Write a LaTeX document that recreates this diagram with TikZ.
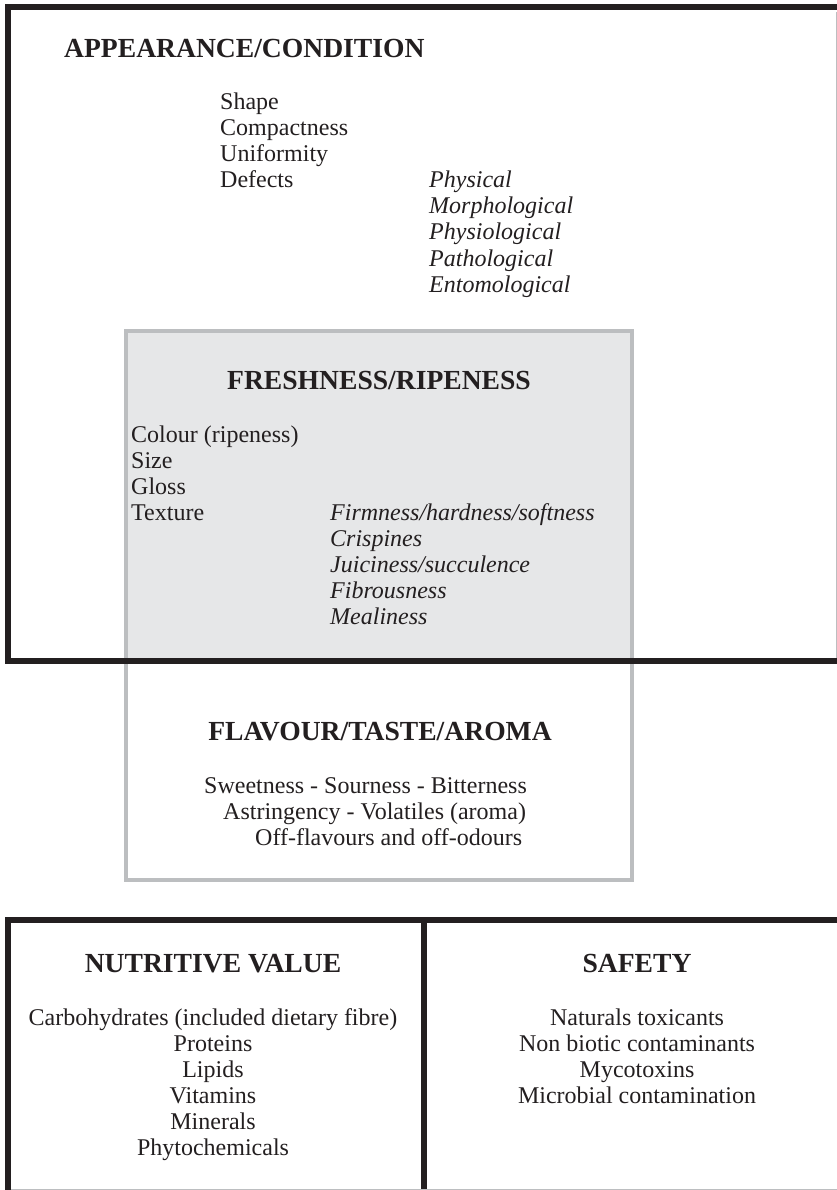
\documentclass[tikz,border=0pt]{standalone}
\usepackage{fontspec}
\setmainfont{Liberation Serif}
\definecolor{inkblack}{HTML}{231F20}
\definecolor{boxfill}{HTML}{E6E7E8}
\definecolor{boxline}{HTML}{BCBEC0}
\tikzset{
  heading/.style={anchor=base, inner sep=0pt, text=inkblack, font=\fontsize{27.6}{30}\selectfont\bfseries},
  bodyl/.style={anchor=base west, inner sep=0pt, text=inkblack, font=\fontsize{24}{26}\selectfont},
  bodyc/.style={anchor=base, inner sep=0pt, text=inkblack, font=\fontsize{24}{26}\selectfont},
  itall/.style={anchor=base west, inner sep=0pt, text=inkblack, font=\fontsize{24}{26}\selectfont\itshape},
  thickframe/.style={draw=inkblack, line width=6pt},
  grayframe/.style={draw=boxline, line width=4pt},
}
\begin{document}
\begin{tikzpicture}[x=1pt,y=-1pt]
\useasboundingbox (0,0) rectangle (837,1190);
\fill[white] (0,0) rectangle (837,1190);
\begin{scope}
\clip (0,0) rectangle (837,1190);
% freshness / flavour box
\fill[boxfill] (126,331) rectangle (632,661);
\draw[grayframe] (126,331) rectangle (632,880);
% appearance frame
\draw[thickframe] (8,6.7) rectangle (850,661);
% bottom frames
\draw[thickframe] (8,920) rectangle (850,1210);
\draw[thickframe] (424,920) -- (424,1210);
% thin edge lines
\draw[boxline, line width=1pt] (836,12) -- (836,658);
\draw[boxline, line width=1pt] (11,1189.5) -- (837,1189.5);
\end{scope}

% APPEARANCE/CONDITION
\node[heading, anchor=base west] (apph) at (64,58) {APPEARANCE/CONDITION};
\node[bodyl] (shape) at (220,110) {Shape};
\node[bodyl] (compact) at (220,136) {Compactness};
\node[bodyl] (unif) at (220,162) {Uniformity};
\node[bodyl] (defects) at (220,188) {Defects};
\node[itall] (phys) at (429,188) {Physical};
\node[itall] (morph) at (429,214) {Morphological};
\node[itall] (physio) at (429,240) {Physiological};
\node[itall] (patho) at (429,266) {Pathological};
\node[itall] (ento) at (429,292) {Entomological};

% FRESHNESS/RIPENESS
\node[heading] (freshh) at (379,389) {FRESHNESS/RIPENESS};
\node[bodyl] (colour) at (131,442) {Colour (ripeness)};
\node[bodyl] (size) at (131,468) {Size};
\node[bodyl] (gloss) at (131,494) {Gloss};
\node[bodyl] (texture) at (131,520) {Texture};
\node[itall] (firm) at (330,520) {Firmness/hardness/softness};
\node[itall] (crisp) at (330,546) {Crispines};
\node[itall] (juic) at (330,572) {Juiciness/succulence};
\node[itall] (fibr) at (330,598) {Fibrousness};
\node[itall] (meal) at (330,624) {Mealiness};

% FLAVOUR/TASTE/AROMA
\node[heading] (flavh) at (380,740) {FLAVOUR/TASTE/AROMA};
\node[bodyl] (sweet) at (204,793) {Sweetness - Sourness - Bitterness};
\node[bodyl] (astr) at (223,819) {Astringency - Volatiles (aroma)};
\node[bodyl] (off) at (255,845) {Off-flavours and off-odours};

% NUTRITIVE VALUE
\node[heading] (nutrh) at (213,972) {NUTRITIVE VALUE};
\node[bodyc] (carb) at (213,1025) {Carbohydrates (included dietary fibre)};
\node[bodyc] (prot) at (213,1051) {Proteins};
\node[bodyc] (lip) at (213,1077) {Lipids};
\node[bodyc] (vit) at (213,1103) {Vitamins};
\node[bodyc] (min) at (213,1129) {Minerals};
\node[bodyc] (phyto) at (213,1155) {Phytochemicals};

% SAFETY
\node[heading] (safeh) at (637,972) {SAFETY};
\node[bodyc] (nat) at (637,1025) {Naturals toxicants};
\node[bodyc] (nonb) at (637,1051) {Non biotic contaminants};
\node[bodyc] (myco) at (637,1077) {Mycotoxins};
\node[bodyc] (micro) at (637,1103) {Microbial contamination};
\end{tikzpicture}
\end{document}
